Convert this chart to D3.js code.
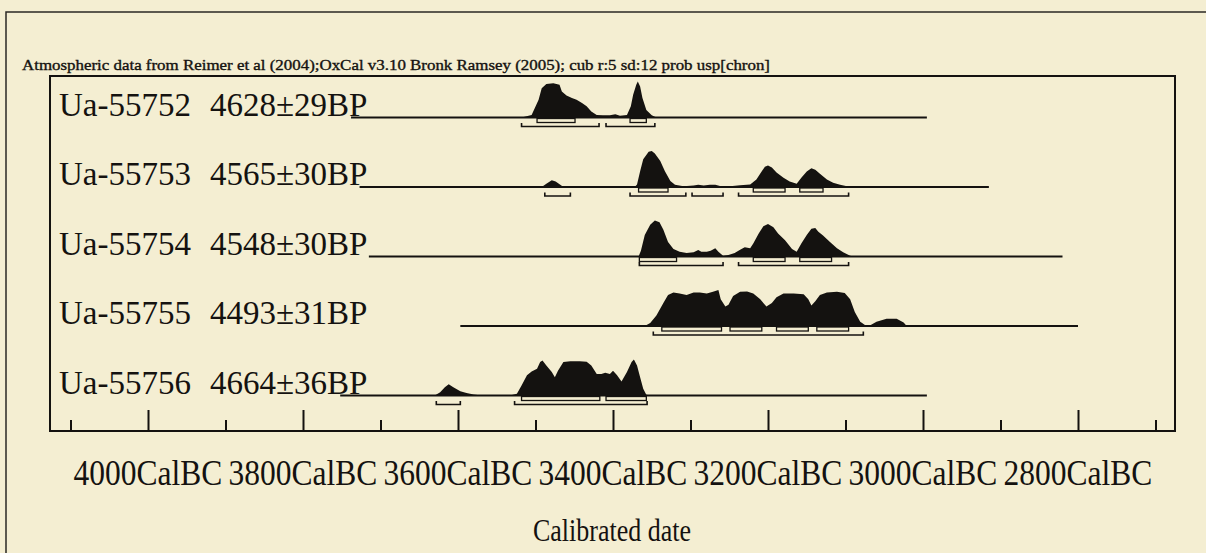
<!DOCTYPE html>
<html>
<head>
<meta charset="utf-8">
<script src="https://cdn.jsdelivr.net/npm/d3@7"></script>
<style>
  html, body { margin: 0; padding: 0; background: #f4eed2; }
  svg { display: block; }
</style>
</head>
<body>
<svg id="chart" width="1206" height="553"></svg>
<script>
// ---------- data ----------
const titleText = "Atmospheric data from Reimer et al (2004);OxCal v3.10 Bronk Ramsey (2005); cub r:5 sd:12 prob usp[chron]";
const sampleIds = ["Ua-55752", "Ua-55753", "Ua-55754", "Ua-55755", "Ua-55756"];
const bpDates = ["4628\u00b129BP", "4565\u00b130BP", "4548\u00b130BP", "4493\u00b131BP", "4664\u00b136BP"];

// extent of the horizontal line of each row (years BC)
const lineStart = [3738, 3727, 3715, 3597, 3752];
const lineEnd = [2995, 2915, 2820, 2800, 2995];

// calibrated probability distributions: [year BC, relative probability]
const dist55752 = [[3518,0],[3505,0.07],[3496,0.49],[3492,0.81],[3486,0.93],[3477,0.95],[3469,0.91],[3466,0.72],
  [3460,0.61],[3453,0.54],[3447,0.49],[3440,0.40],[3434,0.31],[3428,0.17],[3421,0.07],[3413,0.06],[3404,0.06],
  [3397,0.09],[3391,0.05],[3382,0.07],[3377,0.31],[3374,0.63],[3370,0.91],[3368,1.0],[3365,0.86],[3362,0.54],
  [3357,0.21],[3350,0.06],[3344,0]];
const dist55753 = [[3492,0],[3486,0.09],[3479,0.19],[3474,0.15],[3468,0.06],[3464,0],[3372,0],[3369,0.07],
  [3365,0.44],[3361,0.77],[3354,0.98],[3350,1.0],[3346,0.93],[3339,0.72],[3333,0.44],[3326,0.17],[3320,0.06],
  [3309,0.02],[3296,0.04],[3290,0.06],[3283,0.04],[3275,0.06],[3268,0.06],[3262,0.03],[3249,0.02],[3236,0.05],
  [3223,0.07],[3215,0.21],[3208,0.44],[3204,0.56],[3200,0.60],[3195,0.54],[3189,0.40],[3180,0.26],[3172,0.15],
  [3163,0.09],[3157,0.26],[3150,0.43],[3144,0.52],[3139,0.48],[3133,0.37],[3124,0.21],[3116,0.12],[3107,0.06],
  [3098,0.02],[3094,0]];
const dist55754 = [[3367,0],[3364,0.16],[3359,0.60],[3352,0.88],[3346,1.0],[3340,0.95],[3335,0.74],[3329,0.40],
  [3322,0.21],[3314,0.13],[3305,0.10],[3296,0.12],[3290,0.18],[3286,0.13],[3279,0.13],[3274,0.16],[3268,0.23],
  [3264,0.13],[3258,0.02],[3251,0.04],[3243,0.10],[3236,0.19],[3230,0.26],[3223,0.23],[3219,0.36],[3212,0.64],
  [3206,0.84],[3200,0.90],[3193,0.81],[3187,0.64],[3178,0.45],[3169,0.21],[3163,0.13],[3157,0.36],[3150,0.60],
  [3144,0.77],[3139,0.79],[3135,0.69],[3129,0.58],[3120,0.40],[3111,0.23],[3103,0.12],[3094,0.02],[3090,0]];
const dist55755 = [[3359,0],[3352,0.08],[3344,0.29],[3335,0.64],[3329,0.86],[3322,0.93],[3314,0.90],[3305,0.86],
  [3296,0.93],[3288,0.93],[3279,0.90],[3271,0.95],[3264,1.0],[3261,0.74],[3255,0.54],[3251,0.59],[3245,0.83],
  [3236,0.95],[3227,0.96],[3219,0.90],[3210,0.74],[3202,0.54],[3195,0.64],[3189,0.80],[3180,0.90],[3167,0.90],
  [3154,0.88],[3148,0.74],[3144,0.57],[3139,0.69],[3133,0.86],[3124,0.93],[3111,0.95],[3101,0.92],[3094,0.74],
  [3088,0.39],[3081,0.12],[3073,0],[3068,0.02],[3060,0.12],[3047,0.20],[3034,0.20],[3025,0.10],[3021,0]];
const dist55756 = [[3630,0],[3623,0.09],[3617,0.23],[3612,0.31],[3606,0.23],[3597,0.12],[3589,0.07],[3580,0.03],
  [3572,0.01],[3533,0],[3524,0.05],[3518,0.28],[3511,0.56],[3505,0.67],[3498,0.74],[3494,0.93],[3491,0.97],
  [3486,0.83],[3479,0.65],[3475,0.51],[3471,0.69],[3464,0.93],[3455,0.95],[3443,0.95],[3434,0.94],[3428,0.83],
  [3421,0.60],[3415,0.60],[3410,0.63],[3404,0.60],[3400,0.69],[3395,0.57],[3389,0.39],[3382,0.65],[3376,0.93],
  [3373,1.0],[3369,0.83],[3365,0.51],[3361,0.19],[3357,0.02],[3352,0]];
const distributions = [dist55752, dist55753, dist55754, dist55755, dist55756];

// 68.2% ranges (boxes) and 95.4% ranges (brackets), years BC
const range68 = [
  [[3498,3449],[3378,3357]],
  [[3367,3329],[3219,3178],[3159,3129]],
  [[3366,3318],[3219,3178],[3159,3118]],
  [[3337,3260],[3249,3208],[3189,3148],[3137,3096]],
  [[3518,3417],[3409,3357]]
];
const range95 = [
  [[3518,3418],[3409,3346]],
  [[3488,3455],[3378,3306],[3298,3258],[3238,3096]],
  [[3366,3258],[3238,3096]],
  [[3348,3077]],
  [[3628,3597],[3527,3356]]
];

const majorTicks = [4000, 3800, 3600, 3400, 3200, 3000, 2800];
const minorTicks = [4100, 3900, 3700, 3500, 3300, 3100, 2900, 2700];
const tickLabels = ["4000CalBC", "3800CalBC", "3600CalBC", "3400CalBC", "3200CalBC", "3000CalBC", "2800CalBC"];
const axisTitle = "Calibrated date";

// ---------- drawing ----------
const ink = "#141210";
const paper = "#f4eed2";
const serif = "'Liberation Serif', 'Times New Roman', serif";
const svg = d3.select("#chart");

svg.append("rect").attr("width", 1206).attr("height", 553).attr("fill", paper);

// outer page border
svg.append("rect").attr("x", 6).attr("y", 12).attr("width", 1400).attr("height", 800)
  .attr("fill", "none").attr("stroke", "#2a2824").attr("stroke-width", 1.5);

const frame = {left: 50, right: 1175, top: 76, bottom: 431};

const x = d3.scaleLinear().domain([4000, 2800]).range([148, 1078]);
const rowY = d3.scaleLinear().domain([0, sampleIds.length - 1]).range([117.5, 395.5]);
const h = d3.scaleLinear().domain([0, 1]).range([0, 36]);

// title
svg.append("text").attr("x", 22).attr("y", 70)
  .attr("font-family", serif).attr("font-size", 14.5)
  .attr("fill", ink).attr("stroke", ink).attr("stroke-width", 0.35)
  .attr("textLength", 748).attr("lengthAdjust", "spacingAndGlyphs")
  .text(titleText);

// plot frame
svg.append("rect").attr("x", frame.left).attr("y", frame.top)
  .attr("width", frame.right - frame.left).attr("height", frame.bottom - frame.top)
  .attr("fill", "none").attr("stroke", ink).attr("stroke-width", 2);

const rows = svg.append("g").selectAll("g.row").data(sampleIds).join("g").attr("class", "row");

rows.each(function(id, i) {
  const g = d3.select(this);
  const base = rowY(i);

  // horizontal line
  g.append("line").attr("x1", x(lineStart[i])).attr("x2", x(lineEnd[i]))
    .attr("y1", base).attr("y2", base).attr("stroke", ink).attr("stroke-width", 2);

  // distribution
  const area = d3.area().x(d => x(d[0])).y0(base).y1(d => base - h(d[1]));
  g.append("path").datum(distributions[i]).attr("d", area).attr("fill", ink);

  // 68% boxes
  g.selectAll("rect.r68").data(range68[i]).join("rect").attr("class", "r68")
    .attr("x", d => x(d[0])).attr("width", d => x(d[1]) - x(d[0]))
    .attr("y", base + 1).attr("height", 4)
    .attr("fill", paper).attr("stroke", ink).attr("stroke-width", 1.3);

  // 95% brackets
  g.selectAll("path.r95").data(range95[i]).join("path").attr("class", "r95")
    .attr("d", d => `M${x(d[0])},${base + 5.5}V${base + 9}H${x(d[1])}V${base + 5.5}`)
    .attr("fill", "none").attr("stroke", ink).attr("stroke-width", 1.6);

  // labels
  g.append("text").attr("x", 59).attr("y", base - 2)
    .attr("font-family", serif).attr("font-size", 33).attr("fill", ink).text(id);
  g.append("text").attr("x", 210).attr("y", base - 2)
    .attr("font-family", serif).attr("font-size", 33).attr("fill", ink).text(bpDates[i]);
});

// axis ticks (pointing up from the bottom of the frame)
const axisMajor = d3.axisTop(x).tickValues(majorTicks).tickSize(21).tickFormat("");
const axisMinor = d3.axisTop(x).tickValues(minorTicks).tickSize(11).tickFormat("");
const gMaj = svg.append("g").attr("transform", `translate(0,${frame.bottom})`).call(axisMajor);
const gMin = svg.append("g").attr("transform", `translate(0,${frame.bottom})`).call(axisMinor);
[gMaj, gMin].forEach(g => {
  g.select(".domain").remove();
  g.selectAll("line").attr("stroke", ink).attr("stroke-width", 2);
});

// tick labels: narrow serif, stretched vertically like the reference's condensed face
svg.append("g").selectAll("text").data(majorTicks).join("text")
  .attr("transform", d => `translate(${x(d)},485) scale(1,1.16)`)
  .attr("text-anchor", "middle")
  .attr("font-family", serif).attr("font-size", 31.5).attr("fill", ink)
  .text((d, i) => tickLabels[i]);

// axis title
svg.append("text")
  .attr("transform", "translate(612,541) scale(1,1.2)")
  .attr("text-anchor", "middle")
  .attr("font-family", serif).attr("font-size", 26).attr("fill", ink)
  .text(axisTitle);
</script>
</body>
</html>
